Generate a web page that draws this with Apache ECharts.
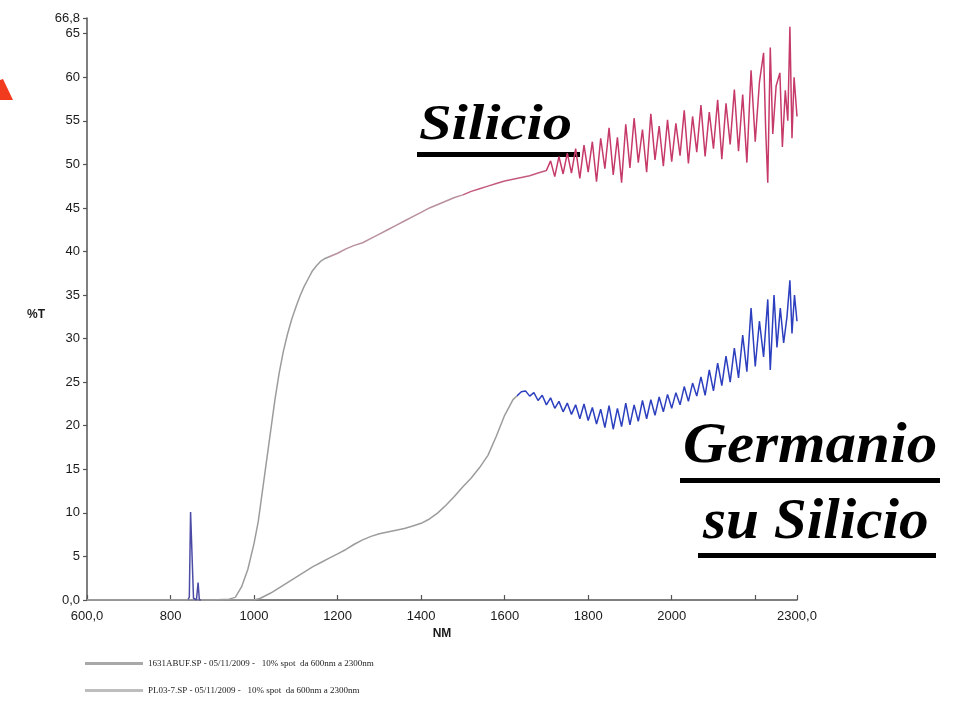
<!DOCTYPE html>
<html>
<head>
<meta charset="utf-8">
<script src="https://cdn.jsdelivr.net/npm/echarts/dist/echarts.min.js"></script>
<style>
  html, body { margin: 0; padding: 0; background: #ffffff; }
  #chart { width: 956px; height: 707px; }
</style>
</head>
<body>
<div id="chart"></div>
<script>
// Transmittance spectra (%T vs wavelength in nm), 600–2300 nm, 10% spot

// Silicon sample
const siNm = [600, 700, 800, 900, 940, 955, 970, 985, 1000, 1010, 1020, 1030, 1040, 1050, 1060, 1070, 1080, 1090,
  1100, 1110, 1120, 1130, 1140, 1150, 1160, 1170, 1180, 1200, 1220, 1240, 1260, 1280, 1300, 1320, 1340, 1360,
  1380, 1400, 1420, 1440, 1460, 1480, 1500, 1520, 1540, 1560, 1580, 1600, 1620, 1640, 1660, 1680, 1700,
  1710, 1720, 1730, 1740, 1750, 1760, 1770, 1780, 1790, 1800, 1810, 1820, 1830, 1840, 1850, 1860, 1870,
  1880, 1890, 1900, 1910, 1920, 1930, 1940, 1950, 1960, 1970, 1980, 1990, 2000, 2010, 2020, 2030, 2040,
  2050, 2060, 2070, 2080, 2090, 2100, 2110, 2120, 2130, 2140, 2150, 2160, 2170, 2180, 2190, 2200, 2210,
  2220, 2225, 2230, 2236, 2242, 2250, 2259, 2265, 2272, 2278, 2283, 2288, 2293, 2300];
const siT = [0, 0, 0, 0, 0.1, 0.3, 1.5, 3.5, 6.5, 9, 12.5, 16, 19.5, 23, 26, 28.5, 30.5, 32.2,
  33.6, 34.9, 36, 36.9, 37.8, 38.4, 38.9, 39.2, 39.4, 39.8, 40.3, 40.7, 41.0, 41.5, 42.0, 42.5, 43.0, 43.5,
  44.0, 44.5, 45.0, 45.4, 45.8, 46.2, 46.5, 46.9, 47.2, 47.5, 47.8, 48.1, 48.3, 48.5, 48.7, 49.0, 49.3,
  50.4, 48.6, 50.9, 48.9, 51.3, 49.0, 51.8, 48.4, 52.2, 49.1, 52.6, 48.0, 53.0, 49.5, 54.2, 48.8, 53.1,
  47.9, 54.6, 49.6, 55.3, 50.2, 54.0, 49.1, 55.8, 50.5, 54.4, 49.8, 55.1, 50.3, 54.7, 51.0, 56.2, 50.1,
  55.5, 51.4, 56.8, 50.9, 56.0, 51.8, 57.4, 50.6, 57.0, 52.3, 58.6, 51.5, 58.0, 50.2, 60.8, 52.6, 59.4,
  62.8, 54.0, 47.9, 63.4, 53.5, 59.0, 60.5, 52.0, 58.5, 55.0, 65.8, 53.0, 60.0, 55.5];

// Germanium-on-silicon sample
const geNm = [600, 840, 845, 848, 852, 855, 862, 866, 869, 900, 1000, 1015, 1040, 1060, 1080, 1100, 1120, 1140,
  1160, 1180, 1200, 1220, 1240, 1260, 1280, 1300, 1320, 1340, 1360, 1380, 1400, 1420, 1440, 1460, 1480,
  1500, 1520, 1540, 1560, 1580, 1600, 1620, 1640, 1650, 1660, 1670, 1680, 1690, 1700, 1710, 1720, 1730,
  1740, 1750, 1760, 1770, 1780, 1790, 1800, 1810, 1820, 1830, 1840, 1850, 1860, 1870, 1880, 1890, 1900,
  1910, 1920, 1930, 1940, 1950, 1960, 1970, 1980, 1990, 2000, 2010, 2020, 2030, 2040, 2050, 2060, 2070,
  2080, 2090, 2100, 2110, 2120, 2130, 2140, 2150, 2160, 2170, 2180, 2190, 2200, 2210, 2220, 2230, 2236,
  2245, 2252, 2260, 2268, 2276, 2283, 2288, 2294, 2300];
const geT = [0, 0, 0.3, 10.1, 10.0, 0.2, 0, 2.0, 0, 0, 0, 0.2, 0.8, 1.4, 2.0, 2.6, 3.2, 3.8,
  4.3, 4.8, 5.3, 5.8, 6.4, 6.9, 7.3, 7.6, 7.8, 8.0, 8.2, 8.5, 8.8, 9.3, 10.0, 10.9, 11.9,
  13.0, 14.0, 15.2, 16.6, 18.8, 21.2, 23.0, 23.9, 24.0, 23.4, 23.8, 22.9, 23.5, 22.4, 23.2, 22.0, 22.8,
  21.6, 22.6, 21.3, 22.4, 20.8, 22.5, 20.6, 22.1, 20.2, 21.9, 19.8, 22.3, 19.6, 22.0, 19.9, 22.6, 20.1,
  22.4, 20.5, 22.9, 20.8, 23.0, 21.2, 23.3, 21.6, 23.6, 22.0, 23.8, 22.4, 24.5, 22.8, 24.9, 23.4, 25.6,
  23.5, 26.4, 24.0, 27.2, 24.6, 28.0, 25.0, 28.9, 25.5, 30.4, 26.2, 33.5, 26.8, 32.0, 27.9, 34.5, 26.4,
  35.0, 29.0, 33.5, 29.5, 32.5, 36.7, 30.6, 35.0, 32.0];

const yTop = 66.8;

const siName = '1631ABUF.SP - 05/11/2009 -   10% spot  da 600nm a 2300nm';
const geName = 'PL03-7.SP - 05/11/2009 -   10% spot  da 600nm a 2300nm';

const pair = (xs, ys) => xs.map((x, i) => [x, ys[i]]);

const chart = echarts.init(document.getElementById('chart'), null, { renderer: 'canvas' });

const axisFont = { fontFamily: '"Liberation Sans", Arial, sans-serif', fontSize: 13, color: '#1a1a1a' };
const titleFont = '"Liberation Serif", "Times New Roman", serif';

chart.setOption({
  animation: false,
  backgroundColor: '#ffffff',
  grid: { left: 87, right: 159, top: 18, bottom: 107 },
  xAxis: {
    type: 'value',
    min: 600,
    max: 2300,
    interval: 200,
    name: 'NM',
    nameLocation: 'middle',
    nameGap: 27,
    nameTextStyle: { fontFamily: '"Liberation Sans", Arial, sans-serif', fontSize: 12, fontWeight: 'bold', color: '#1a1a1a' },
    axisLine: { lineStyle: { color: '#555', width: 1.5 } },
    axisTick: { inside: true, length: 5, lineStyle: { color: '#555', width: 1.2 } },
    axisLabel: Object.assign({
      margin: 10,
      formatter: v => (v === 600 ? '600,0' : v === 2300 ? '2300,0' : v === 2200 ? '' : String(v))
    }, axisFont),
    splitLine: { show: false }
  },
  yAxis: {
    type: 'value',
    min: 0,
    max: yTop,
    interval: 5,
    name: '%T',
    nameLocation: 'middle',
    nameRotate: 0,
    nameGap: 42,
    nameTextStyle: { fontFamily: '"Liberation Sans", Arial, sans-serif', fontSize: 12, fontWeight: 'bold', color: '#1a1a1a', verticalAlign: 'top' },
    axisLine: { show: true, lineStyle: { color: '#555', width: 1.5 } },
    axisTick: { show: true, length: 4, lineStyle: { color: '#555', width: 1.2 } },
    axisLabel: Object.assign({
      margin: 7,
      formatter: v => (v === 0 ? '0,0' : Math.abs(v - yTop) < 1e-6 ? '66,8' : String(v))
    }, axisFont),
    splitLine: { show: false }
  },
  legend: {
    orient: 'vertical',
    left: 80,
    top: 654,
    itemWidth: 58,
    itemHeight: 3,
    itemGap: 18,
    textStyle: { fontFamily: titleFont, fontSize: 9, color: '#222' },
    data: [
      { name: siName, icon: 'rect', itemStyle: { color: '#a8a8a8' } },
      { name: geName, icon: 'rect', itemStyle: { color: '#bdbdbd' } }
    ]
  },
  visualMap: [
    {
      type: 'piecewise', show: false, seriesIndex: 0, dimension: 0,
      pieces: [
        { lt: 1180, color: '#9c9c9c' },
        { gte: 1180, lt: 1500, color: '#b8909e' },
        { gte: 1500, lt: 1700, color: '#c45a7c' },
        { gte: 1700, color: '#c63a68' }
      ]
    },
    {
      type: 'piecewise', show: false, seriesIndex: 1, dimension: 0,
      pieces: [
        { lt: 842, color: '#9c9c9c' },
        { gte: 842, lt: 872, color: '#4b4ba6' },
        { gte: 872, lt: 1630, color: '#9c9c9c' },
        { gte: 1630, color: '#2c3fbf' }
      ]
    }
  ],
  series: [
    {
      name: siName,
      type: 'line',
      data: pair(siNm, siT),
      showSymbol: false,
      symbol: 'none',
      lineStyle: { width: 1.5 }
    },
    {
      name: geName,
      type: 'line',
      data: pair(geNm, geT),
      showSymbol: false,
      symbol: 'none',
      lineStyle: { width: 1.5 }
    }
  ],
  graphic: [
    {
      type: 'polygon',
      shape: { points: [[0, 80], [3, 79], [13, 100], [0, 100]] },
      style: { fill: '#f23a1e' }
    },
    {
      type: 'text', x: 419, y: 126, scaleX: 1.15,
      style: { text: 'Silicio', font: 'italic bold 51px ' + titleFont,
        fill: '#000', textAlign: 'left', textVerticalAlign: 'middle', align: 'left', verticalAlign: 'middle' }
    },
    { type: 'rect', shape: { x: 417, y: 152, width: 163, height: 5 }, style: { fill: '#000' } },
    {
      type: 'text', x: 683, y: 448, scaleX: 1.09,
      style: { text: 'Germanio', font: 'italic bold 56px ' + titleFont,
        fill: '#000', textAlign: 'left', textVerticalAlign: 'middle', align: 'left', verticalAlign: 'middle' }
    },
    { type: 'rect', shape: { x: 680, y: 478, width: 260, height: 5 }, style: { fill: '#000' } },
    {
      type: 'text', x: 703, y: 523, scaleX: 1.04,
      style: { text: 'su Silicio', font: 'italic bold 57px ' + titleFont,
        fill: '#000', textAlign: 'left', textVerticalAlign: 'middle', align: 'left', verticalAlign: 'middle' }
    },
    { type: 'rect', shape: { x: 698, y: 553, width: 238, height: 5 }, style: { fill: '#000' } }
  ]
});
</script>
</body>
</html>
